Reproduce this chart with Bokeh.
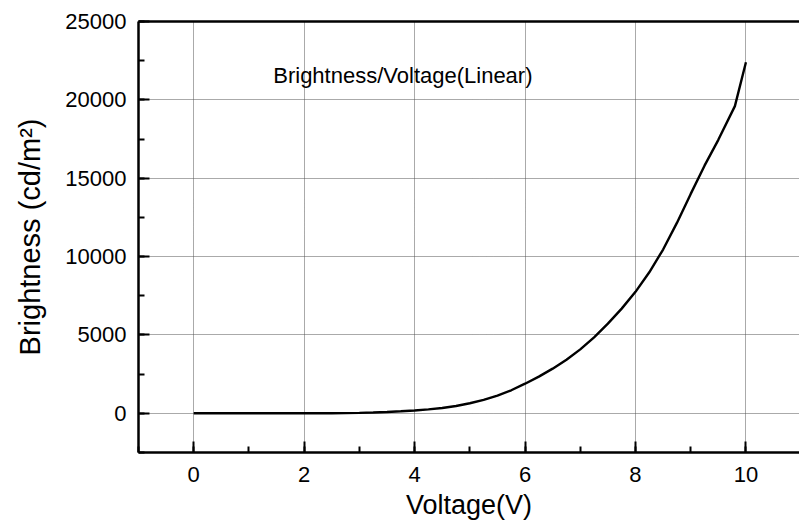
from bokeh.plotting import figure
from bokeh.models import LinearAxis, Range1d, FixedTicker, Label
from bokeh.embed import file_html
from bokeh.resources import INLINE

voltage = [0.0, 0.5, 1.0, 1.5, 2.0, 2.5, 3.0, 3.25, 3.5, 3.75, 4.0, 4.25, 4.5,
           4.75, 5.0, 5.25, 5.5, 5.75, 6.0, 6.25, 6.5, 6.75, 7.0, 7.25, 7.5,
           7.75, 8.0, 8.25, 8.5, 8.75, 9.0, 9.25, 9.5, 9.8, 10.0]
brightness = [0, 0, 0, 0, 0, 5, 30, 55, 85, 130, 180, 250, 340,
              470, 640, 860, 1130, 1470, 1890, 2340, 2850, 3420, 4080, 4850, 5720,
              6680, 7750, 9000, 10450, 12150, 14000, 15800, 17450, 19600, 22400]

x_ticks = [0, 2, 4, 6, 8, 10]
y_ticks = [0, 5000, 10000, 15000, 20000, 25000]
annotation = "Brightness/Voltage(Linear)"
x_title = "Voltage(V)"
y_title = "Brightness (cd/m²)"

FONT = "Liberation Sans"

p = figure(width=799, height=531, output_backend="svg", toolbar_location=None,
           x_range=Range1d(-1, 10.97), y_range=Range1d(-2500, 25000),
           x_axis_location="below", y_axis_location="left",
           min_border_left=138, min_border_right=0, min_border_top=21,
           min_border_bottom=79)
p.outline_line_color = None
p.background_fill_color = "white"
p.border_fill_color = "white"

p.line(voltage, brightness, line_color="black", line_width=2.4)

for ax in (p.xaxis[0], p.yaxis[0]):
    ax.axis_line_width = 2.5
    ax.axis_line_color = "black"
    ax.major_tick_in = 11
    ax.major_tick_out = 0
    ax.minor_tick_in = 6
    ax.minor_tick_out = 0
    ax.major_tick_line_width = 2
    ax.minor_tick_line_width = 2
    ax.major_label_text_font = FONT
    ax.major_label_text_font_size = "22px"
    ax.major_label_text_color = "black"
    ax.axis_label_text_font = FONT
    ax.axis_label_text_font_size = "27px"
    ax.axis_label_text_font_style = "normal"
    ax.axis_label_text_color = "black"

p.yaxis[0].axis_label_text_font_size = "29px"
p.xaxis[0].ticker = FixedTicker(ticks=x_ticks, minor_ticks=list(range(-1, 12)))
p.yaxis[0].ticker = FixedTicker(ticks=y_ticks,
                                minor_ticks=[-2500 + 2500 * i for i in range(12)])
p.xaxis[0].axis_label = x_title
p.yaxis[0].axis_label = y_title
p.xaxis[0].major_label_standoff = 14
p.yaxis[0].major_label_standoff = 12
p.xaxis[0].axis_label_standoff = 5
p.yaxis[0].axis_label_standoff = 16

top = LinearAxis(ticker=FixedTicker(ticks=[]), axis_line_width=2.5,
                 major_tick_line_color=None, minor_tick_line_color=None,
                 major_label_text_font_size="0px")
p.add_layout(top, "above")

p.xgrid.ticker = FixedTicker(ticks=x_ticks)
p.ygrid.ticker = FixedTicker(ticks=y_ticks)
for g in (p.xgrid[0], p.ygrid[0]):
    g.grid_line_color = "#555555"
    g.grid_line_dash = "1 1"
    g.grid_line_width = 1

p.add_layout(Label(x=1.44, y=21580, text=annotation, text_font=FONT,
                   text_font_size="22px", text_color="black",
                   text_baseline="middle"))

open("out.html", "w").write(file_html(p, INLINE))
